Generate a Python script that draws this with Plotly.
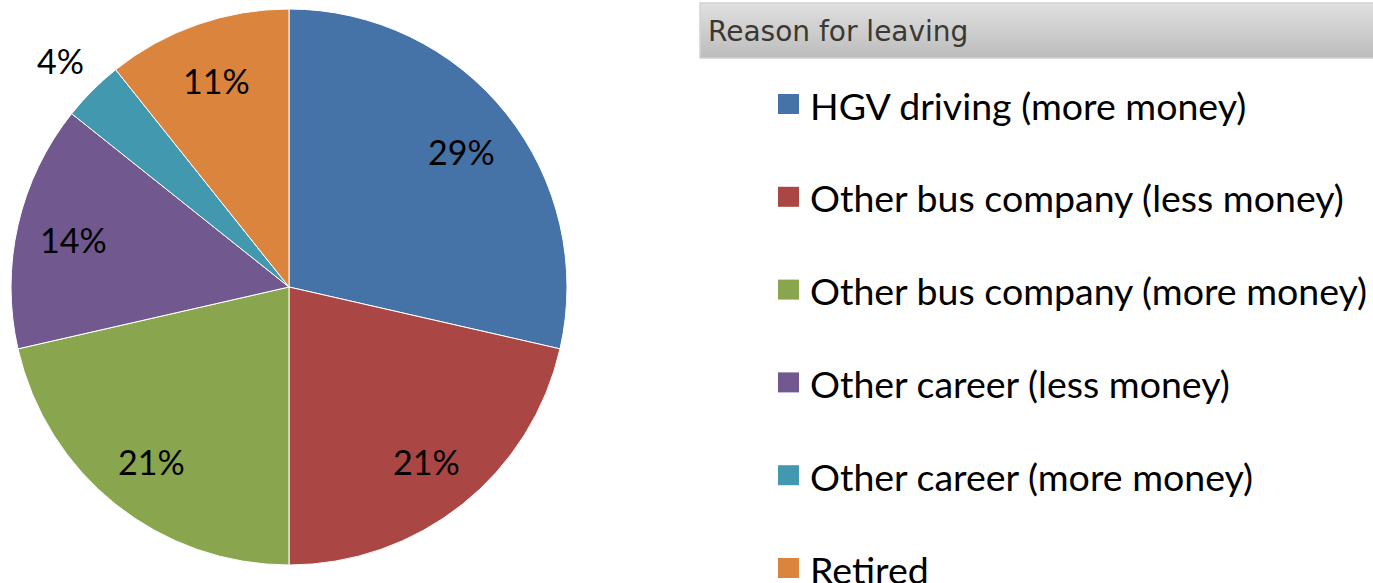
import math
import plotly.graph_objects as go

categories = [
    "HGV driving (more money)",
    "Other bus company (less money)",
    "Other bus company (more money)",
    "Other career (less money)",
    "Other career (more money)",
    "Retired",
]
counts = [8, 6, 6, 4, 1, 3]
colors = ["#4572A7", "#AA4643", "#89A54E", "#71588F", "#4198AF", "#DB843D"]
label_inside = [True, True, True, True, False, True]
legend_title = "Reason for leaving"

W, H = 1373, 583

# pie placement in pixels
px0, px1, py0, py1 = 11, 567, 9, 565
cx, cy = (px0 + px1) / 2, (py0 + py1) / 2
R = (px1 - px0) / 2

fig = go.Figure()
fig.add_trace(go.Pie(
    labels=categories,
    values=counts,
    sort=False,
    direction="clockwise",
    rotation=0,
    marker=dict(colors=colors, line=dict(color="white", width=1)),
    textinfo="none",
    domain=dict(x=[px0 / W, px1 / W], y=[(H - py1) / H, (H - py0) / H]),
    showlegend=False,
    hoverinfo="label+percent",
))

shapes = []
annotations = []

# percentage labels at each slice's mid-angle (computed from the data)
total = sum(counts)
cum = 0
for v, inside in zip(counts, label_inside):
    mid = (cum + v / 2) / total * 2 * math.pi
    cum += v
    k = 0.795 if inside else 1.16
    lx = cx + k * R * math.sin(mid)
    ly = cy - k * R * math.cos(mid) + 2
    annotations.append(dict(text=f"{round(100 * v / total)}%", xref="paper", yref="paper",
                            x=lx / W, y=(H - ly) / H, xanchor="center", yanchor="middle",
                            showarrow=False,
                            font=dict(family="Lato", size=34, color="#000000")))

# legend title box (gradient imitation with overlapping bands)
bx0, bx1, by0, by1 = 700, 1380, 3, 58
nb = 20
for j in range(nb):
    t = j / (nb - 1)
    g = int(round(0xdf + (0xbd - 0xdf) * t))
    shapes.append(dict(type="rect", xref="paper", yref="paper",
                       x0=bx0 / W, x1=bx1 / W,
                       y0=(H - by1) / H,
                       y1=(H - (by0 + j * (by1 - by0) / nb)) / H,
                       fillcolor=f"rgb({g},{g},{g})", line=dict(width=0), layer="below"))
shapes.append(dict(type="rect", xref="paper", yref="paper",
                   x0=bx0 / W, x1=bx1 / W, y0=(H - by1) / H, y1=(H - by0) / H,
                   fillcolor="rgba(0,0,0,0)", line=dict(color="#d2d2d2", width=1.5),
                   layer="below"))
annotations.append(dict(text=legend_title, xref="paper", yref="paper",
                        x=706 / W, y=(H - 31) / H, xanchor="left", yanchor="middle",
                        showarrow=False,
                        font=dict(family="DejaVu Sans", size=28, color="#3b3834")))

# legend entries
for i, (cat, col) in enumerate(zip(categories, colors)):
    yc = 104 + i * 92.8
    shapes.append(dict(type="rect", xref="paper", yref="paper",
                       x0=778 / W, x1=799 / W, y0=(H - yc - 10) / H, y1=(H - yc + 10) / H,
                       fillcolor=col, line=dict(width=0)))
    annotations.append(dict(text=cat, xref="paper", yref="paper",
                            x=808 / W, y=(H - yc - 1) / H, xanchor="left", yanchor="middle",
                            showarrow=False,
                            font=dict(family="Lato", size=37.5, color="#000000")))

fig.update_layout(
    width=W, height=H,
    margin=dict(l=0, r=0, t=0, b=0),
    paper_bgcolor="white",
    plot_bgcolor="white",
    shapes=shapes,
    annotations=annotations,
)

fig.write_html("out.html",
               config={"displayModeBar": False},
               post_script="document.body.style.margin='0px';document.body.style.overflow='hidden';")
